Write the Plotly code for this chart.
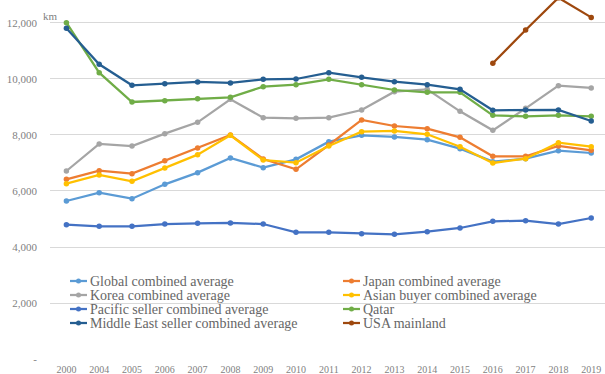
import plotly.graph_objects as go

# Average voyage distance by route group, km
years = ["2000", "2004", "2005", "2006", "2007", "2008", "2009", "2010", "2011",
         "2012", "2013", "2014", "2015", "2016", "2017", "2018", "2019"]

global_avg = [5643, 5940, 5726, 6238, 6655, 7179, 6833, 7131, 7762,
              7988, 7929, 7833, 7512, 7048, 7155, 7440, 7357]
japan_avg = [6417, 6726, 6619, 7083, 7536, 8000, 7143, 6774, 7643,
             8536, 8321, 8226, 7917, 7238, 7238, 7607, 7452]
korea_avg = [6714, 7679, 7607, 8048, 8452, 9274, 8619, 8595, 8619,
             8893, 9548, 9631, 8845, 8167, 8952, 9762, 9679]
asian_buyer_avg = [6262, 6571, 6345, 6821, 7298, 7988, 7107, 7012, 7607,
                   8119, 8143, 8024, 7583, 7000, 7155, 7726, 7583]
pacific_seller_avg = [4798, 4738, 4738, 4821, 4845, 4857, 4821, 4524, 4524,
                      4476, 4452, 4548, 4679, 4917, 4940, 4821, 5036]
qatar = [12012, 10226, 9179, 9226, 9298, 9345, 9726, 9798, 9988,
         9798, 9607, 9524, 9524, 8702, 8667, 8702, 8667]
middle_east_seller_avg = [11810, 10525, 9775, 9833, 9893, 9857, 9988, 10000, 10225,
                          10060, 9905, 9798, 9631, 8881, 8893, 8893, 8500]
usa_mainland = [None] * 13 + [10560, 11750, 12900, 12200]

series_names = ["Global combined average", "Japan combined average",
                "Korea combined average", "Asian buyer combined average",
                "Pacific seller combined average", "Qatar",
                "Middle East seller combined average", "USA mainland"]
series_values = [global_avg, japan_avg, korea_avg, asian_buyer_avg,
                 pacific_seller_avg, qatar, middle_east_seller_avg, usa_mainland]
series_colors = ["#5B9BD5", "#ED7D31", "#A5A5A5", "#FFC000",
                 "#4472C4", "#70AD47", "#255E91", "#9E480E"]

y_tick_vals = [0, 2000, 4000, 6000, 8000, 10000, 12000]
y_tick_text = ["-", "2,000", "4,000", "6,000", "8,000", "10,000", "12,000"]

W, H = 605, 374
ML, MB = 50, 15
PW, PH = W - ML, H - MB
SERIF = "Liberation Serif, Times New Roman, serif"

fig = go.Figure()
for name, vals, color in zip(series_names, series_values, series_colors):
    fig.add_trace(go.Scatter(
        x=years, y=vals, name=name, mode="lines+markers",
        line=dict(color=color, width=2.25),
        marker=dict(color=color, size=5.5),
        showlegend=False,
    ))

# Two-column legend laid out below the curves
def px_x(p):
    return (p - ML) / PW

def px_y(p):
    return (PH - p) / PH

shapes = []
annotations = []
col_x = [70, 343]
row_y = [281, 295, 309, 323]
for i, (name, color) in enumerate(zip(series_names, series_colors)):
    cx = col_x[i % 2]
    cy = row_y[i // 2]
    shapes.append(dict(type="line", xref="paper", yref="paper",
                       x0=px_x(cx), x1=px_x(cx + 17), y0=px_y(cy), y1=px_y(cy),
                       line=dict(color=color, width=2.25)))
    shapes.append(dict(type="circle", xref="paper", yref="paper",
                       x0=px_x(cx + 6), x1=px_x(cx + 11),
                       y0=px_y(cy + 2.5), y1=px_y(cy - 2.5),
                       fillcolor=color, line=dict(width=0)))
    annotations.append(dict(text=name, xref="paper", yref="paper",
                            x=px_x(cx + 18), y=px_y(cy), xanchor="left",
                            yanchor="middle", showarrow=False,
                            font=dict(family=SERIF, size=14, color="#666666")))

annotations.append(dict(text="km", xref="paper", yref="paper",
                        x=px_x(50), y=px_y(16), xanchor="center", yanchor="middle",
                        showarrow=False,
                        font=dict(family=SERIF, size=11, color="#7F7F7F")))

fig.update_layout(
    width=W, height=H,
    margin=dict(l=ML, r=0, t=0, b=MB),
    paper_bgcolor="white", plot_bgcolor="white",
    shapes=shapes, annotations=annotations,
    xaxis=dict(type="category", range=[-0.5, 16.42], showgrid=False,
               showline=False, zeroline=False, ticks="",
               ticklabelstandoff=3,
               tickfont=dict(family=SERIF, size=10, color="#7F7F7F")),
    yaxis=dict(range=[0, 12821], tickvals=y_tick_vals, ticktext=y_tick_text,
               showgrid=True, gridcolor="#D9D9D9", gridwidth=1,
               zeroline=False, showline=False, ticks="",
               ticklabelstandoff=12,
               tickfont=dict(family=SERIF, size=11, color="#7F7F7F")),
)

fig.write_html("out.html")
